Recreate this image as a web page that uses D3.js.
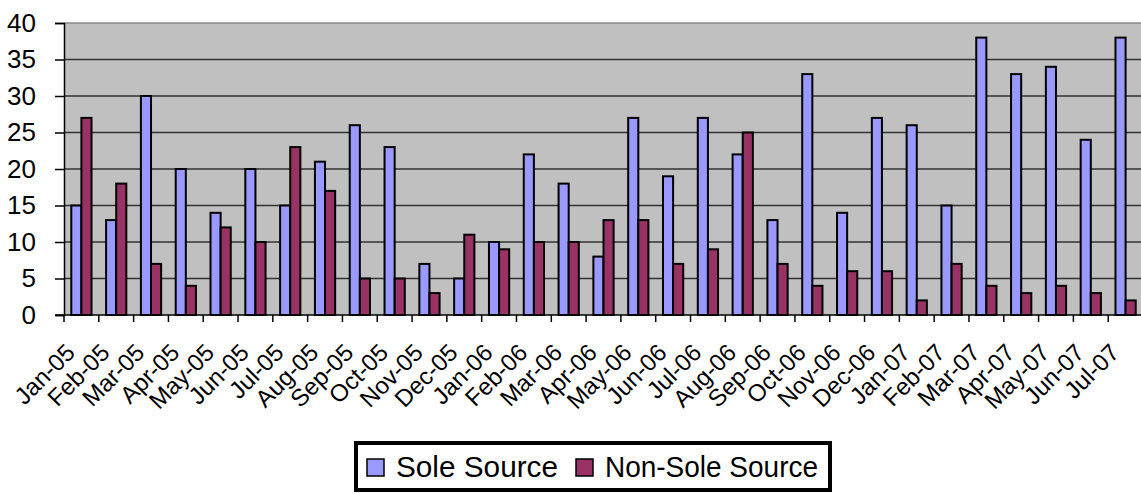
<!DOCTYPE html>
<html><head><meta charset="utf-8">
<script src="https://cdn.jsdelivr.net/npm/d3@7"></script>
<style>body{margin:0;background:#fff;}svg{display:block;font-family:"Liberation Sans",Arial,sans-serif;}</style>
</head><body>
<script>
const categories = ["Jan-05","Feb-05","Mar-05","Apr-05","May-05","Jun-05","Jul-05","Aug-05","Sep-05","Oct-05","Nov-05","Dec-05","Jan-06","Feb-06","Mar-06","Apr-06","May-06","Jun-06","Jul-06","Aug-06","Sep-06","Oct-06","Nov-06","Dec-06","Jan-07","Feb-07","Mar-07","Apr-07","May-07","Jun-07","Jul-07"];
const soleSource = [15,13,30,20,14,20,15,21,26,23,7,5,10,22,18,8,27,19,27,22,13,33,14,27,26,15,38,33,34,24,38];
const nonSoleSource = [27,18,7,4,12,10,23,17,5,5,3,11,9,10,10,13,13,7,9,25,7,4,6,6,2,7,4,3,4,3,2];
const seriesNames = ["Sole Source","Non-Sole Source"];
const seriesColors = ["#9999FF","#993366"];
const yTicks = [0,5,10,15,20,25,30,35,40];

const W = 1141, H = 494;
const svg = d3.select("body").append("svg").attr("width",W).attr("height",H);
const pLeft = 64, pRight = 1143, pTop = 23, pBottom = 315;

const x = d3.scaleBand().domain(categories).range([pLeft,pRight]).paddingInner(0).paddingOuter(0);
const xs = d3.scaleBand().domain([0,1]).range([0, x.bandwidth()]).paddingInner(0).paddingOuter(0.72);
const y = d3.scaleLinear().domain([0,40]).range([pBottom,pTop]);

svg.append("rect").attr("x",pLeft).attr("y",pTop).attr("width",pRight-pLeft).attr("height",pBottom-pTop).attr("fill","#C0C0C0");

// gridlines
svg.append("g").selectAll("line").data(yTicks.filter(d=>d>0)).join("line")
  .attr("x1",pLeft).attr("x2",pRight).attr("y1",d=>y(d)).attr("y2",d=>y(d))
  .attr("stroke",d=>d===40?"#888":"#333").attr("stroke-width",1.5);

// y axis
const yAxis = svg.append("g").attr("transform",`translate(${pLeft},0)`)
  .call(d3.axisLeft(y).tickValues(yTicks).tickSize(9).tickPadding(19));
yAxis.select(".domain").attr("stroke","#000").attr("stroke-width",1.5);
yAxis.selectAll(".tick line").attr("stroke","#000").attr("stroke-width",1.5);
yAxis.selectAll("text").attr("font-size",26).attr("fill","#000").attr("font-family","Liberation Sans, Arial, sans-serif");

// bars
const groups = svg.append("g").selectAll("g").data(categories).join("g")
  .attr("transform",d=>`translate(${x(d)},0)`);
groups.selectAll("rect").data((d,i)=>[soleSource[i],nonSoleSource[i]]).join("rect")
  .attr("x",(d,j)=>xs(j)).attr("width",xs.bandwidth())
  .attr("y",d=>y(d)).attr("height",d=>y(0)-y(d))
  .attr("fill",(d,j)=>seriesColors[j]).attr("stroke","#000").attr("stroke-width",2);

// x axis
svg.append("line").attr("x1",pLeft-9).attr("x2",pRight).attr("y1",pBottom).attr("y2",pBottom).attr("stroke","#000").attr("stroke-width",1.5);
svg.append("g").selectAll("line").data(categories).join("line")
  .attr("x1",d=>x(d)).attr("x2",d=>x(d)).attr("y1",pBottom).attr("y2",pBottom+7)
  .attr("stroke","#000").attr("stroke-width",1.5);
svg.append("g").selectAll("text").data(categories).join("text")
  .attr("transform",d=>`translate(${x(d)+x.bandwidth()/2-5},${pBottom+39}) rotate(-45)`)
  .attr("text-anchor","end")
  .attr("font-size",24).attr("fill","#000").text(d=>d);

// legend
const lg = svg.append("g");
lg.append("rect").attr("x",356).attr("y",443).attr("width",474).attr("height",47)
  .attr("fill","#fff").attr("stroke","#000").attr("stroke-width",4);
const items = [{x:367,name:seriesNames[0],c:seriesColors[0],w:162},{x:576,name:seriesNames[1],c:seriesColors[1],w:213}];
items.forEach(it=>{
  lg.append("rect").attr("x",it.x).attr("y",459).attr("width",17).attr("height",17)
    .attr("fill",it.c).attr("stroke","#000").attr("stroke-width",1.5);
  lg.append("text").attr("x",it.x+29).attr("y",477).attr("font-size",29.5).attr("fill","#000")
    .attr("textLength",it.w).attr("lengthAdjust","spacingAndGlyphs").text(it.name);
});
</script>
</body></html>
